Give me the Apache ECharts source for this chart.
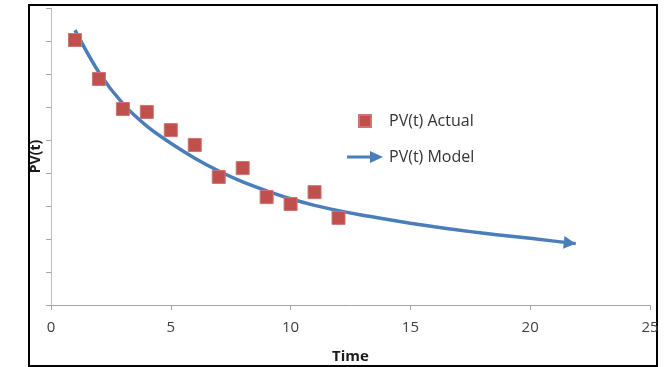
<!DOCTYPE html>
<html>
<head>
<meta charset="utf-8">
<script src="https://cdn.jsdelivr.net/npm/echarts@6/dist/echarts.min.js"></script>
<style>
  html, body { margin: 0; padding: 0; background: #fff; }
  #chart { width: 667px; height: 367px; }
</style>
</head>
<body>
<div id="chart"></div>
<script>
// actual values (y axis has no labels, 9 tick steps)
const actualT = [1, 2, 3, 4, 5, 6, 7, 8, 9, 10, 11, 12]
const actualPV = [8.03, 6.85, 5.94, 5.85, 5.3, 4.85, 3.88, 4.15, 3.27, 3.06, 3.42, 2.64]

// model curve, read at a few times along the drawn line
const modelT = [1, 2, 3, 4, 5, 6, 7, 8, 9, 10, 11, 12, 13, 14, 15, 16, 17, 18, 19, 20, 21.9]
const modelPV = [8.33, 7.05, 6.1, 5.42, 4.9, 4.45, 4.06, 3.73, 3.46, 3.22, 3.02, 2.86, 2.72, 2.6, 2.48, 2.37, 2.27, 2.18, 2.1, 2.02, 1.86]

const xTicks = [0, 25, 5]   // min, max, step
const yTicks = [0, 9, 1]

const red = '#C0504D'
const blue = '#4A7EBB'

const actualData = actualT.map((t, i) => [t, actualPV[i]])
const modelData = modelT.map((t, i) => {
  // last point carries the arrow head
  if (i === modelT.length - 1) {
    return {
      value: [t, modelPV[i]],
      symbol: 'triangle',
      symbolSize: [13, 12],
      symbolRotate: -96,
      symbolOffset: [-6, -0.6]
    }
  }
  return [t, modelPV[i]]
})

const chart = echarts.init(document.getElementById('chart'))
chart.setOption({
  animation: false,
  grid: { left: 51, right: 17, top: 8, bottom: 62, outerBoundsMode: 'none' },
  xAxis: {
    type: 'value',
    min: xTicks[0], max: xTicks[1], interval: xTicks[2],
    name: 'Time',
    nameLocation: 'middle',
    nameGap: 44,
    nameTextStyle: { fontFamily: 'Open Sans', fontWeight: 'bold', fontSize: 15, color: '#1a1a1a' },
    axisLine: { lineStyle: { color: '#a6a6a6', width: 1 } },
    axisTick: { length: 5, lineStyle: { color: '#a6a6a6' } },
    axisLabel: { margin: 15, fontFamily: 'Open Sans', fontSize: 15, color: '#404040' },
    splitLine: { show: false }
  },
  yAxis: {
    type: 'value',
    min: yTicks[0], max: yTicks[1], interval: yTicks[2],
    name: 'PV(t)',
    nameLocation: 'middle',
    nameGap: 8,
    nameTextStyle: { fontFamily: 'Open Sans', fontWeight: 'bold', fontSize: 14, color: '#1a1a1a' },
    axisLine: { show: true, lineStyle: { color: '#bfbfbf', width: 1 } },
    axisTick: { show: true, length: 5, lineStyle: { color: '#a6a6a6' } },
    axisLabel: { show: false },
    splitLine: { show: false }
  },
  legend: {
    orient: 'vertical',
    left: 341,
    top: 108,
    itemWidth: 36,
    itemHeight: 12,
    itemGap: 20,
    textStyle: { fontFamily: 'Open Sans', fontSize: 16, color: '#333', padding: [0, 0, 0, 1] },
    data: [
      { name: 'PV(t) Actual', icon: 'path://M0,0M36,12M12,0h12v12h-12z', itemStyle: { color: red } },
      { name: 'PV(t) Model', icon: 'path://M0,4.5h24v3h-24zM23,0L36,6L23,12z', itemStyle: { color: blue } }
    ]
  },
  graphic: [{
    type: 'rect',
    shape: { x: 29, y: 5, width: 628, height: 361 },
    style: { fill: 'none', stroke: '#000', lineWidth: 2 },
    silent: true
  }],
  series: [
    {
      name: 'PV(t) Model',
      type: 'line',
      data: modelData,
      smooth: 0.3,
      symbol: 'none',
      lineStyle: { color: blue, width: 3.5 },
      itemStyle: { color: blue },
      z: 2
    },
    {
      name: 'PV(t) Actual',
      type: 'scatter',
      data: actualData,
      symbol: 'rect',
      symbolSize: 13,
      itemStyle: { color: red, opacity: 1, borderColor: '#cf7472', borderWidth: 1 },
      z: 3
    }
  ]
})
</script>
</body>
</html>
